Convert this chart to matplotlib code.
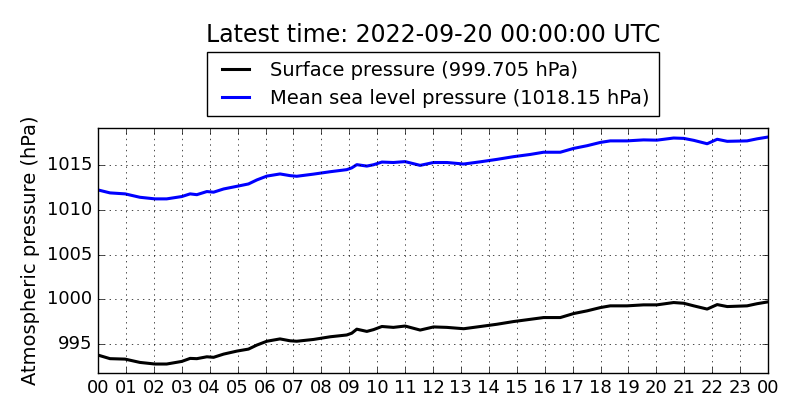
import datetime as dt
import matplotlib
matplotlib.use("Agg")
import matplotlib.pyplot as plt
import matplotlib.dates as mdates

plt.style.use("classic")

# hours after 2022-09-19 00:00 UTC
hours = [0, 0.43, 0.97, 1.5, 2.04, 2.46, 3.0, 3.3, 3.54, 3.9, 4.14, 4.5, 4.98,
         5.39, 5.69, 6.05, 6.52, 6.88, 7.12, 7.72, 8.32, 8.91, 9.09, 9.27, 9.63,
         9.87, 10.17, 10.58, 11.0, 11.54, 12.02, 12.5, 13.1, 13.7, 14.29, 14.88,
         15.48, 15.96, 16.56, 17.04, 17.52, 18.0, 18.35, 18.95, 19.54, 20.02,
         20.62, 20.98, 21.34, 21.82, 22.18, 22.54, 23.25, 23.61, 24.0]
surface = [993.75, 993.35, 993.3, 992.93, 992.75, 992.75, 993.04, 993.38, 993.35,
           993.56, 993.5, 993.86, 994.2, 994.42, 994.87, 995.3, 995.56, 995.35,
           995.3, 995.5, 995.8, 996.0, 996.2, 996.65, 996.4, 996.6, 996.95,
           996.85, 997.0, 996.55, 996.9, 996.85, 996.7, 996.95, 997.2, 997.5,
           997.75, 997.95, 997.95, 998.4, 998.7, 999.07, 999.26, 999.26, 999.37,
           999.37, 999.63, 999.55, 999.26, 998.9, 999.4, 999.18, 999.26, 999.5,
           999.705]
msl = [1012.23, 1011.9, 1011.79, 1011.41, 1011.23, 1011.23, 1011.49, 1011.79,
       1011.7, 1012.05, 1011.98, 1012.34, 1012.64, 1012.9, 1013.35, 1013.78,
       1014.02, 1013.83, 1013.76, 1014.0, 1014.27, 1014.5, 1014.7, 1015.06,
       1014.9, 1015.05, 1015.35, 1015.3, 1015.4, 1014.98, 1015.3, 1015.3,
       1015.13, 1015.38, 1015.65, 1015.95, 1016.2, 1016.45, 1016.45, 1016.88,
       1017.18, 1017.55, 1017.72, 1017.72, 1017.83, 1017.8, 1018.04, 1018.0,
       1017.78, 1017.4, 1017.9, 1017.67, 1017.72, 1017.95, 1018.15]

start = dt.datetime(2022, 9, 19)
times = [start + dt.timedelta(hours=h) for h in hours]

fig = plt.figure(figsize=(8, 4.2), dpi=100, facecolor="white")
ax = fig.add_axes([0.1225, 0.112, 0.8375, 0.583])

ax.plot(times, surface, color="black", lw=2.2,
        label="Surface pressure (%s hPa)" % surface[-1])
ax.plot(times, msl, color="blue", lw=2.2,
        label="Mean sea level pressure (%s hPa)" % msl[-1])

ax.set_xlim(times[0], times[-1])
ax.set_ylim(min(surface) - 1, max(msl) + 1)
ax.xaxis.set_major_locator(mdates.HourLocator())
ax.xaxis.set_major_formatter(mdates.DateFormatter("%H"))
ax.set_yticks([995, 1000, 1005, 1010, 1015])
ax.yaxis.get_major_formatter().set_useOffset(False)
ax.tick_params(labelsize=13)
ax.grid(True)
ax.set_ylabel("Atmospheric pressure (hPa)", fontsize=14)

ax.legend(loc="lower center", bbox_to_anchor=(0.5, 1.0), fontsize=14,
          fancybox=False, borderaxespad=0.6, handlelength=2.0,
          borderpad=0.45, labelspacing=0.45)
# title sits above the legend, centred on the axes
ax.text(0.5, 1.38, "Latest time: 2022-09-20 00:00:00 UTC", fontsize=17,
        ha="center", va="center", transform=ax.transAxes)

fig.savefig("out.png", dpi=100, facecolor="white")
